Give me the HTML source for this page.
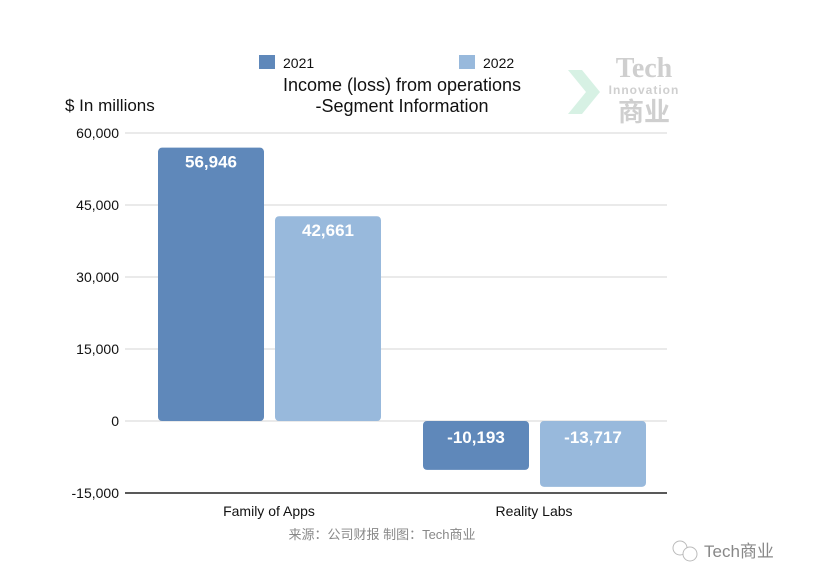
<!DOCTYPE html>
<html><head><meta charset="utf-8"><style>
body{margin:0;background:#fff;}
svg{display:block;font-family:"Liberation Sans","Noto Sans CJK SC",sans-serif;}
</style></head><body>
<svg id="chart" width="818" height="586" viewBox="0 0 818 586">
<g id="grid"></g>
<g id="yticks"></g>
<g id="bars"></g>
<g id="xlabels"></g>
<text x="65" y="111" font-size="17" fill="#111">$ In millions</text>
<rect x="259" y="55" width="16" height="14" fill="#5f88ba"/>
<text x="283" y="68" font-size="14" fill="#111">2021</text>
<rect x="459" y="55" width="16" height="14" fill="#98b9dc"/>
<text x="483" y="68" font-size="14" fill="#111">2022</text>
<text x="402" y="91" font-size="18" fill="#111" text-anchor="middle">Income (loss) from operations</text>
<text x="402" y="112" font-size="18" fill="#111" text-anchor="middle">-Segment Information</text>
<g>
<polygon points="568,70 582,70 600,92 582,114 568,114 586,92" fill="#cdeedd" opacity="0.8"/>
<text x="644" y="77" font-size="28" font-family="Liberation Serif,serif" font-weight="bold" fill="#cfcfcf" text-anchor="middle">Tech</text>
<text x="644" y="94" font-size="12" font-weight="bold" fill="#cfcfcf" text-anchor="middle" letter-spacing="1">Innovation</text>
<text x="644" y="121" font-size="26" font-weight="bold" fill="#cfcfcf" text-anchor="middle">商业</text>
</g>
<text x="382" y="539" font-size="13" fill="#888" text-anchor="middle">来源：公司财报 制图：Tech商业</text>
<g>
<circle cx="680" cy="548" r="7" fill="none" stroke="#bbb"/>
<circle cx="690" cy="554" r="7" fill="#fff" stroke="#bbb"/>
<text x="704" y="557" font-size="17" fill="#888">Tech商业</text>
</g>
</svg>
<script>
const categories=["Family of Apps","Reality Labs"];
const series2021=[56946,-10193];
const series2022=[42661,-13717];
const tickValues=[60000,45000,30000,15000,0,-15000];
const tickLabels=["60,000","45,000","30,000","15,000","0","-15,000"];
const NS="http://www.w3.org/2000/svg";
const y=v=>421-(v/15000)*72;
const groupX=i=>158+i*265;
function mk(tag,attrs,parent){const e=document.createElementNS(NS,tag);for(const k in attrs)e.setAttribute(k,attrs[k]);parent.appendChild(e);return e;}
const grid=document.getElementById('grid'),yt=document.getElementById('yticks'),bars=document.getElementById('bars'),xl=document.getElementById('xlabels');
tickValues.forEach((v,i)=>{
 const isBase=v===tickValues[tickValues.length-1];
 const l=mk('line',{x1:125,x2:667,y1:y(v),y2:y(v),stroke:isBase?'#222':'#d4d4d4','stroke-width':isBase?1.5:1},grid);
 
 
 const t=mk('text',{x:119,y:y(v)+5,'font-size':14,fill:'#111','text-anchor':'end'},yt);
 t.textContent=tickLabels[i];
 
 
});
function bar(x,v,color,name){
 const top=Math.min(y(v),y(0)),h=Math.abs(y(v)-y(0));
 const r=mk('rect',{x:x,y:top,width:106,height:h,rx:4,fill:color},bars);
 
 
 const t=mk('text',{x:x+53,y:top+(v<0?22:20),'font-size':17,'font-weight':'bold',fill:'#fff','text-anchor':'middle'},bars);
 t.textContent=v.toLocaleString('en-US');
 
 
}
categories.forEach((c,i)=>{
 const gx=groupX(i);
 bar(gx,series2021[i],'#5f88ba','bar-2021-'+i);
 bar(gx+117,series2022[i],'#98b9dc','bar-2022-'+i);
 const t=mk('text',{x:gx+111,y:516,'font-size':14,fill:'#111','text-anchor':'middle'},xl);
 t.textContent=c;
 
 
});
</script>
</body></html>
